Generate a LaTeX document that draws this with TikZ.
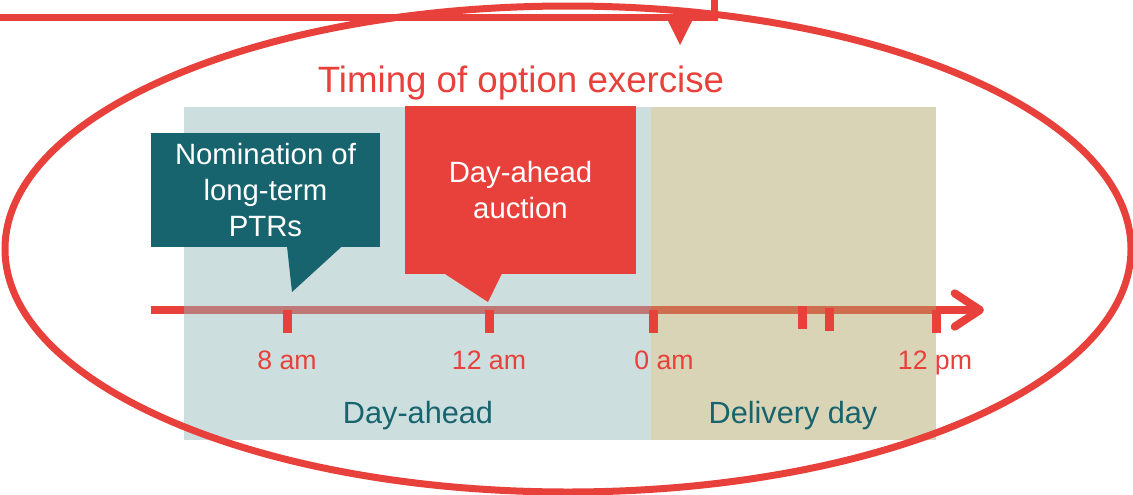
\documentclass[tikz,border=0pt]{standalone}
\usepackage{fontspec}
\setmainfont{Liberation Sans}
\usetikzlibrary{positioning, arrows.meta}
\definecolor{optred}{HTML}{E8403A}
\definecolor{petrol}{HTML}{17646E}
\definecolor{dayblue}{RGB}{149,184,187}
\definecolor{daytan}{RGB}{177,163,100}
\tikzstyle{wire} = [optred, line width=5.25pt]
\tikzstyle{timearrow} = [optred, line width=6pt,
-{Straight Barb[length=19pt, width=25pt, round]}]
\tikzstyle{band} = [rectangle, inner sep=0pt, outer sep=0pt, fill opacity=0.47]
\tikzstyle{callout} = [rectangle, inner sep=0pt, outer sep=0pt,
text=white, align=center,
font=\fontsize{22}{27}\selectfont]
\tikzstyle{tick} = [rectangle, fill=optred, inner sep=0pt,
minimum width=6.75pt, minimum height=17.25pt, anchor=north]
\tikzstyle{hour} = [text=optred, anchor=base, font=\fontsize{20}{24}\selectfont]
\tikzstyle{period} = [text=petrol, anchor=base, font=\fontsize{23}{27}\selectfont]
\tikzstyle{heading} = [text=optred, anchor=base, font=\fontsize{27.5}{32}\selectfont]

\begin{document}
\begin{tikzpicture}[x=0.75pt, y=-0.75pt]
        \useasboundingbox (0,0) rectangle (1133,494);
        % line coming in from above, with its arrow head
        \coordinate (lead) at (0,17);
        \coordinate (bend) at (714,17);
        \coordinate (leadtop) at (714,0);
        \draw [wire] (lead) -- (bend) -- (leadtop);
        \fill [optred] (668,21) -- (692,21) -- (680,45) -- cycle;
        \node (title) [heading] at (521,92) {Timing of option exercise};

        % time axis
        \coordinate (tstart) at (151,310);
        \coordinate (tend) at (984,310);
        \draw [timearrow] (tstart) -- (tend);

        % the two days, laid over the axis
        \node (dayahead) [band, fill=dayblue, minimum width=350.25pt, minimum height=249.75pt] at (417.5,273.5) {};
        \node (delivery) [band, fill=daytan, minimum width=213.75pt, minimum height=249.75pt] at (793.5,273.5) {};
        \node (dalabel) [period] at (418,423) {Day-ahead};
        \node (ddlabel) [period] at (793,423) {Delivery day};

        % ticks and hours
        \node (t8) [tick] at (287,310) {};
        \node (t12) [tick] at (489,310) {};
        \node (t0) [tick] at (653,310) {};
        \node (ta) [tick] at (802,306) {};
        \node (tb) [tick] at (829,308) {};
        \node (t24) [tick] at (936,310) {};
        \node (h8) [hour] at (287,369) {8 am};
        \node (h12) [hour] at (489,369) {12 am};
        \node (h0) [hour] at (664,369) {0 am};
        \node (h24) [hour] at (935,369) {12 pm};

        % callouts
        \node (nom) [callout, fill=petrol, minimum width=171.75pt, minimum height=85.5pt] at (265.5,190) {Nomination of\\long-term\\PTRs};
        \fill [petrol] ([xshift=102pt, yshift=0.5pt]nom.south west) -- (292,292) -- ([xshift=143.25pt, yshift=0.5pt]nom.south west) -- cycle;
        \node (auction) [callout, fill=optred, minimum width=173.25pt, minimum height=126pt] at (520.5,190) {Day-ahead\\auction};
        \fill [optred] ([xshift=29.25pt, yshift=0.5pt]auction.south west) -- (488,302) -- ([xshift=72.75pt, yshift=0.5pt]auction.south west) -- cycle;

        % ring round the whole timeline
        \draw [wire] (568,249) ellipse [x radius=422.25pt, y radius=182.25pt];
    \end{tikzpicture}
\end{document}
